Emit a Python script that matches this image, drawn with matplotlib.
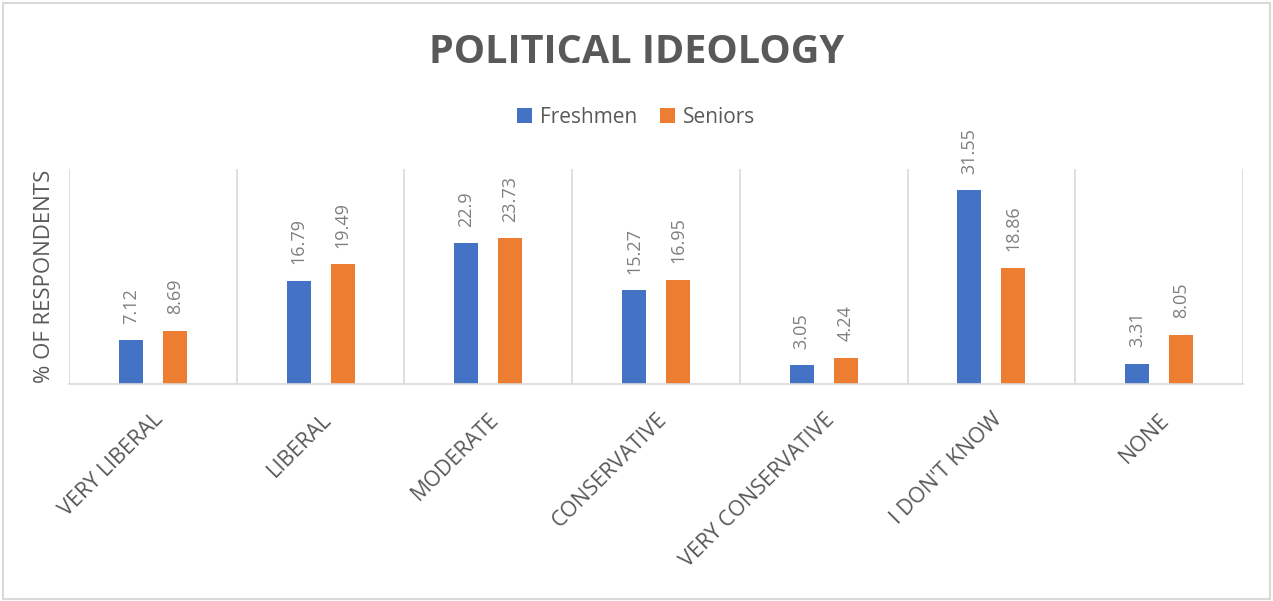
import numpy as np
import matplotlib.pyplot as plt
from matplotlib.patches import Rectangle
from matplotlib.ticker import FixedLocator

categories = ["VERY LIBERAL", "LIBERAL", "MODERATE", "CONSERVATIVE",
              "VERY CONSERVATIVE", "I DON'T KNOW", "NONE"]
freshmen = [7.12, 16.79, 22.9, 15.27, 3.05, 31.55, 3.31]
seniors = [8.69, 19.49, 23.73, 16.95, 4.24, 18.86, 8.05]

plt.rcParams['font.family'] = ['Open Sans', 'DejaVu Sans']
blue = "#4472c4"
orange = "#ed7d31"
dark = "#595959"
grid = "#d9d9d9"

fig = plt.figure(figsize=(12.73, 6.01), dpi=100)
ax = fig.add_axes([0.0542, 0.361, 0.9222, 0.3578])

x = np.arange(len(categories))
w = 0.143
b1 = ax.bar(x - 0.131, freshmen, w, color=blue, label="Freshmen")
b2 = ax.bar(x + 0.131, seniors, w, color=orange, label="Seniors")

for bars, vals in [(b1, freshmen), (b2, seniors)]:
    for r, v in zip(bars, vals):
        ax.annotate(f"{v:g}", (r.get_x() + r.get_width() / 2, v),
                    xytext=(0, 12), textcoords="offset points",
                    rotation=90, ha="center", va="bottom",
                    fontsize=13, color="#7f7f7f")

ax.set_xlim(-0.5, len(categories) - 0.5)
ax.set_ylim(0, 35)
ax.set_yticks([])
ax.set_xticks(x)
ax.set_xticklabels(categories, rotation=45, ha="right",
                   rotation_mode="anchor", fontsize=15.5, color=dark)
ax.tick_params(axis="x", length=0, pad=18)
ax.xaxis.set_minor_locator(FixedLocator(np.arange(-0.5, len(categories), 1)))
ax.tick_params(axis="x", which="minor", length=0)
ax.grid(axis="x", which="minor", color=grid, linewidth=1.2)
for s in ["top", "left", "right"]:
    ax.spines[s].set_visible(False)
ax.spines["bottom"].set_color(grid)
ax.spines["bottom"].set_linewidth(1.2)
ax.set_axisbelow(True)

ax.set_ylabel("% OF RESPONDENTS", fontsize=16, color=dark, labelpad=10)

fig.text(0.5, 0.912, "POLITICAL IDEOLOGY", ha="center", va="center",
         fontsize=28.5, fontweight="bold", color=dark)
fig.legend(handles=[b1, b2], loc="center", bbox_to_anchor=(0.5, 0.805),
           ncol=2, frameon=False, fontsize=15, labelcolor=dark,
           handlelength=0.7, handleheight=0.7, handletextpad=0.4,
           columnspacing=1.1)

fig.patches.append(Rectangle((0.002, 0.003), 0.996, 0.992,
                             transform=fig.transFigure, fill=False,
                             edgecolor=grid, linewidth=1.5))

fig.savefig("out.png", dpi=100)
